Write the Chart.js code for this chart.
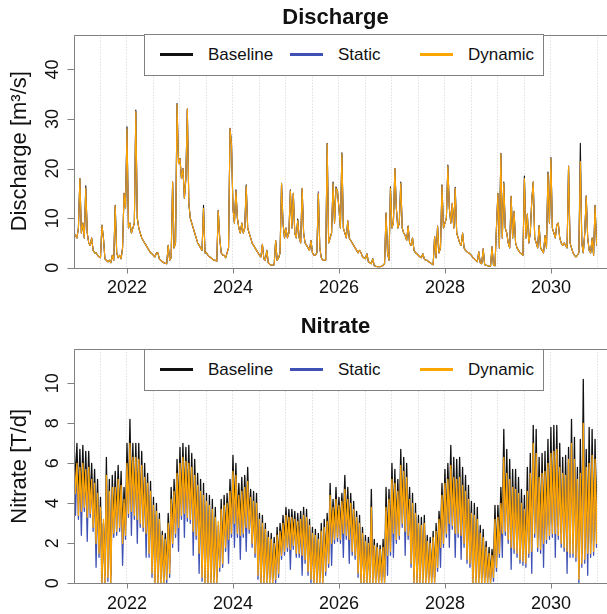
<!DOCTYPE html>
<html>
<head>
<meta charset="utf-8">
<script src="https://cdn.jsdelivr.net/npm/chart.js@4.4.1/dist/chart.umd.min.js"></script>
<style>
  body { margin: 0; background: #fff; }
  .panel { position: relative; width: 607px; height: 307px; overflow: hidden; }
  .panel canvas { position: absolute; left: 0; top: 0; }
  .legend { position: absolute; left: 144px; width: 400px; height: 42px; box-sizing: border-box;
            border: 1px solid #808080; background: #fff; color: #111;
            font: 17px "Liberation Sans", Arial, sans-serif; }
  .legend .sw { position: absolute; top: 18px; width: 33px; height: 3px; }
  .legend .lb { position: absolute; top: 10px; line-height: 20px; white-space: nowrap; }
</style>
</head>
<body>
<div class="panel"><canvas id="qChart" width="607" height="307"></canvas><div class="legend" id="qLegend" style="top:34px"></div></div>
<div class="panel"><canvas id="nChart" width="607" height="307"></canvas><div class="legend" id="nLegend" style="top:42px"></div></div>
<script>
// time axis: three readings a month (days 1, 11, 21)
const years = [2021, 2022, 2023, 2024, 2025, 2026, 2027, 2028, 2029, 2030];
const dekadOffsets = [0, 1 / 3, 2 / 3];
const xMin = 2021, xMax = 2030.87;
const xTickYears = [2022, 2024, 2026, 2028, 2030];

const seriesNames = ['Baseline', 'Static', 'Dynamic'];
const seriesColors = ['#111111', '#3f51b5', '#ffa500'];

// Discharge [m3/s]
const qBaseline = [
  7,6.5,6, 8,18,7, 9,6,16.5, 7,5,4.5, 6,3.5,3, 3,2.5,2.2, 2,8.6,6, 1.8,1.5,1.2, 1.5,1,2.5, 1.5,12.6,3, 2,2.5,1.8, 4,15,12,
  28.4,8,9, 7,8,9, 31.8,10,8, 7,6,5.5, 5,4.5,4, 3.5,3,2.8, 2.5,2.2,3, 3,1.8,1.5, 1.2,1,0.9, 0.8,4.5,1.5, 2,17.3,4, 5,33.1,21,
  22,18,20, 14,18,32, 13,10,9, 8,7,6, 5,4.5,4, 3.5,12.6,3, 3,2.5,2.2, 2,1.8,1.5, 1.5,1.3,11.6, 6,3,2.5, 2.5,2,3, 4,28.1,25,
  12,9,15.7, 10,8,7, 9,7,8, 16.7,8,7, 6,5,4.5, 4,3.5,3, 2.5,2.2,4.7, 1.8,1.5,3.5, 1,0.7,0.5, 0.5,0.6,5.5, 1.5,2,3, 17,9,6,
  8,6,7, 15.7,8,15, 7,6,9.8, 6,5,15.9, 7,5,4.5, 4,3.5,5.5, 3,2.5,2.5, 3,15,4, 2,1.5,1.5, 1.5,25.1,5, 6,7,17.3, 9,16.3,15.5,
  12,8,23.2, 8,7,6, 9.4,6,5.5, 5,4.5,4, 3.5,3,3.5, 3,2.2,2, 1.8,2.8,1.2, 1,0.8,1.8, 0.4,0.3,0.2, 0.2,0.2,0.3, 0.5,0.8,11, 3,1.5,16.3,
  8,9,20, 12,8,9, 17.3,8,7, 6.5,5.5,8.4, 5,4.5,6, 3.5,3,2.8, 2.5,2.2,2, 2.8,1.8,1.5, 1.5,1.2,1, 0.8,0.6,6.3, 2,8.4,3, 4,16.7,8,
  9,10,20.7, 12,9,13, 8,16.2,7, 6,5,4.5, 7,4,3.5, 3.2,3,2.8, 2.5,2,1.8, 1.5,1.2,3.2, 1,0.8,3.8, 0.6,0.5,0.4, 0.3,0.3,4.2, 0.5,0.4,8,
  15,4,23.1, 6,17.3,8, 7,5,4, 14.4,6,11.4, 5,4,3.5, 3,2.8,2.5, 18.5,6,10.8, 5,7,13.6, 17.3,6,5, 4,8.5,4, 3.5,3,6.5, 4,19.3,9,
  22.2,8,7, 6,8.7,9, 6,5,4.5, 5,4.5,4, 20.5,5,4, 3,2.5,2.2, 2.5,3,25.1, 5,3,7, 14.5,6,3.5, 3,6,2.5, 12.6,5,4
];
const qStatic = [
  7,6.5,6, 8,18,7, 9,6,16, 7,5,4.5, 6,3.5,3, 3,2.5,2.2, 2,8.5,6, 1.8,1.5,1.2, 1.5,1,2.5, 1.5,12.5,3, 2,2.5,1.8, 4,15,12,
  28,8,9, 7,8,9, 31.5,10,8, 7,6,5.5, 5,4.5,4, 3.5,3,2.8, 2.5,2.2,3, 3,1.8,1.5, 1.2,1,0.9, 0.8,4.5,1.5, 2,17.3,4, 5,33,21,
  22,18,20, 14,18,32, 13,10,9, 8,7,6, 5,4.5,4, 3.5,12,3, 3,2.5,2.2, 2,1.8,1.5, 1.5,1.3,11.5, 6,3,2.5, 2.5,2,3, 4,28,25,
  12,9,15.5, 10,8,7, 9,7,8, 16.5,8,7, 6,5,4.5, 4,3.5,3, 2.5,2.2,4.7, 1.8,1.5,3.5, 1,0.7,0.5, 0.5,0.6,5.5, 1.5,2,3, 17,9,6,
  8,6,7, 15.5,8,15, 7,6,9.5, 6,5,16, 7,5,4.5, 4,3.5,5.5, 3,2.5,2.5, 3,15.3,4, 2,1.5,1.5, 1.5,25,5, 6,7,17, 9,16,15.5,
  12,8,23, 8,7,6, 9.5,6,5.5, 5,4.5,4, 3.5,3,3.5, 3,2.2,2, 1.8,2.8,1.2, 1,0.8,1.8, 0.4,0.3,0.2, 0.2,0.2,0.3, 0.5,0.8,11, 3,1.5,16,
  8,9,20, 12,8,9, 17,8,7, 6.5,5.5,8.4, 5,4.5,6, 3.5,3,2.8, 2.5,2.2,2, 2.8,1.8,1.5, 1.5,1.2,1, 0.8,0.6,6.3, 2,8.4,3, 4,16.5,8,
  9,10,20.5, 12,9,13, 8,16,7, 6,5,4.5, 7,4,3.5, 3.2,3,2.8, 2.5,2,1.8, 1.5,1.2,3.2, 1,0.8,3.8, 0.6,0.5,0.4, 0.3,0.3,4.2, 0.5,0.4,8,
  15,4,23, 6,17,8, 7,5,4, 14.4,6,11.4, 5,4,3.5, 3,2.8,2.5, 18,6,10.8, 5,7,13.5, 17.3,6,5, 4,8.5,4, 3.5,3,6.5, 4,19,9,
  22,8,7, 6,8.7,9, 6,5,4.5, 5,4.5,4, 20.4,5,4, 3,2.5,2.2, 2.5,3,21.4, 5,3,7, 14.4,6,3.5, 3,6,2.5, 12.5,5,4
];
const qDynamic = [
  7,6.5,6, 8,18,7, 9,6,16, 7,5,4.5, 6,3.5,3, 3,2.5,2.2, 2,8.5,6, 1.8,1.5,1.2, 1.5,1,2.5, 1.5,12.5,3, 2,2.5,1.8, 4,15,12,
  28,8,9, 7,8,9, 31.5,10,8, 7,6,5.5, 5,4.5,4, 3.5,3,2.8, 2.5,2.2,3, 3,1.8,1.5, 1.2,1,0.9, 0.8,4.5,1.5, 2,17.3,4, 5,33,21,
  22,18,20, 14,18,32, 13,10,9, 8,7,6, 5,4.5,4, 3.5,12,3, 3,2.5,2.2, 2,1.8,1.5, 1.5,1.3,11.5, 6,3,2.5, 2.5,2,3, 4,28,25,
  12,9,15.5, 10,8,7, 9,7,8, 16.5,8,7, 6,5,4.5, 4,3.5,3, 2.5,2.2,4.7, 1.8,1.5,3.5, 1,0.7,0.5, 0.5,0.6,5.5, 1.5,2,3, 17,9,6,
  8,6,7, 15.5,8,15, 7,6,9.5, 6,5,16, 7,5,4.5, 4,3.5,5.5, 3,2.5,2.5, 3,15,4, 2,1.5,1.5, 1.5,25,5, 6,7,17, 9,16,15.5,
  12,8,23, 8,7,6, 9.5,6,5.5, 5,4.5,4, 3.5,3,3.5, 3,2.2,2, 1.8,2.8,1.2, 1,0.8,1.8, 0.4,0.3,0.2, 0.2,0.2,0.3, 0.5,0.8,11, 3,1.5,16,
  8,9,20, 12,8,9, 17,8,7, 6.5,5.5,8.4, 5,4.5,6, 3.5,3,2.8, 2.5,2.2,2, 2.8,1.8,1.5, 1.5,1.2,1, 0.8,0.6,6.3, 2,8.4,3, 4,16.5,8,
  9,10,20.5, 12,9,13, 8,16,7, 6,5,4.5, 7,4,3.5, 3.2,3,2.8, 2.5,2,1.8, 1.5,1.2,3.2, 1,0.8,3.8, 0.6,0.5,0.4, 0.3,0.3,4.2, 0.5,0.4,8,
  15,4,23, 6,17,8, 7,5,4, 14.4,6,11.4, 5,4,3.5, 3,2.8,2.5, 18,6,10.8, 5,7,13.5, 17.3,6,5, 4,8.5,4, 3.5,3,6.5, 4,19,9,
  22,8,7, 6,8.7,9, 6,5,4.5, 5,4.5,4, 20.4,5,4, 3,2.5,2.2, 2.5,3,21.4, 5,3,7, 14.4,6,3.5, 3,6,2.5, 12.5,5,4
];
const qTicks = [0, 10, 20, 30, 40];

// Nitrate [T/d]
const nBaseline = [
  7.3,5.0,7.0, 4.0,6.7,4.1, 6.9,4.3,6.6, 3.9,6.6,4.0, 6.0,3.4,5.7, 2.5,5.2,2.0, 4.3,0.3,3.0, 0.4,6.3,0.8, 5.2,0.4,5.4, 3.0,5.6,3.1, 5.9,3.3,5.6, 2.5,4.8,2.9,
  7.0,4.0,8.2, 4.1,7.0,3.9, 7.0,3.7,7.0, 3.5,6.6,3.3, 6.0,3.0,5.5, 2.0,5.1,1.0, 4.3,0.3,4.0, 0.3,3.5,0.3, 2.6,0.3,2.5, 0.7,3.5,1.0, 4.8,2.5,5.2, 3.0,6.2,3.3,
  6.8,3.9,7.0, 4.0,6.8,3.8, 6.9,3.7,6.5, 3.1,6.2,2.9, 5.5,2.0,5.2, 0.8,5.0,0.3, 4.5,0.3,4.4, 0.3,4.2,0.3, 3.8,0.3,2.2, 1.3,4.2,1.5, 4.4,2.3,4.5, 2.7,5.2,3.0,
  6.4,3.5,6.0, 3.0,5.0,2.9, 5.3,3.0,5.4, 3.3,5.8,3.2, 4.7,2.5,4.6, 2.0,4.5,0.9, 3.5,0.3,3.4, 0.3,3.0,0.3, 2.6,0.3,2.5, 0.3,2.3,0.7, 2.8,1.0,3.0, 1.9,3.4,2.1,
  3.8,2.3,3.7, 2.2,3.7,2.4, 3.6,2.0,3.5, 2.0,3.6,1.9, 3.8,1.7,3.7, 1.1,3.2,0.7, 2.8,0.3,2.7, 0.3,2.5,0.3, 3.0,0.3,3.2, 1.1,3.5,1.5, 5.0,2.5,4.2, 2.7,4.8,2.8,
  4.3,2.7,4.5, 3.0,5.4,2.9, 4.8,2.7,4.5, 2.1,4.1,1.9, 3.6,1.0,3.4, 0.3,2.8,0.3, 2.4,0.3,2.3, 0.3,4.7,0.3, 2.2,0.3,2.0, 0.3,1.9,0.3, 2.2,0.3,4.8, 1.9,4.7,2.1,
  6.0,3.0,5.7, 2.7,5.2,2.9, 6.7,3.5,6.3, 3.1,6.0,2.9, 4.8,1.5,4.5, 0.3,4.0,0.3, 3.4,0.3,3.3, 0.3,3.4,0.3, 2.4,0.3,2.3, 0.3,2.6,0.3, 3.0,1.3,3.6, 2.3,5.0,2.5,
  5.7,3.0,6.0, 3.5,6.9,3.4, 6.3,3.0,6.2, 3.0,6.3,2.9, 5.8,2.5,5.4, 1.7,4.9,1.5, 4.1,0.3,4.0, 0.3,3.8,0.3, 2.9,0.3,2.7, 0.3,2.1,0.3, 1.8,0.3,1.7, 0.8,3.9,1.3,
  3.9,2.0,4.8, 3.0,7.7,3.1, 6.7,2.7,6.2, 2.3,5.7,2.2, 5.7,2.0,5.3, 1.7,4.7,1.6, 4.4,1.5,5.8, 2.0,6.5,2.1, 7.9,3.0,7.7, 2.3,6.3,2.2, 6.5,2.5,6.6, 2.7,7.2,2.9,
  7.8,3.0,7.9, 3.0,7.9,2.9, 7.0,2.5,6.3, 2.3,6.4,2.1, 6.8,2.0,8.2, 2.0,7.3,1.8, 5.8,0.7,7.2, 1.5,10.2,1.7, 6.7,2.0,7.8, 2.0,7.7,2.1, 7.2,2.5,7.4
];
const nStatic = [
  5.4,3.4,5.8, 3.2,5.6,2.4, 5.8,3.6,5.5, 2.1,5.6,3.3, 5.0,2.6,4.8, 0.8,4.3,1.3, 3.6,0,3.0, 0,5.2,0.1, 4.4,0,4.6, 2.3,4.6,2.4, 5.0,2.6,4.7, 0.9,4.0,2.2,
  5.8,3.3,6.8, 2.4,6.1,3.2, 6.1,2.0,6.0, 2.8,5.7,2.6, 5.1,1.3,4.8, 1.3,4.4,0.3, 3.7,0,3.4, 0,3.0,0, 2.2,0,2.0, 0,2.8,0.3, 4.0,1.8,4.4, 2.3,5.3,1.6,
  5.8,3.2,6.1, 2.3,5.9,3.1, 5.8,3.0,5.6, 1.4,5.2,2.2, 4.7,0.5,4.4, 0.1,4.2,0, 3.9,0,3.7, 0,3.5,0, 3.1,0,2.9, 0.6,3.5,0.8, 3.7,1.6,3.8, 1.0,4.4,2.3,
  5.4,1.8,5.2, 2.3,4.2,1.2, 4.4,2.3,4.6, 1.6,4.9,2.5, 4.1,1.8,3.9, 1.3,3.8,0.2, 3.0,0,2.8, 0,2.5,0, 2.1,0,2.0, 0,1.8,0, 2.2,0.3,2.4, 1.2,2.8,1.4,
  3.2,1.6,3.1, 0.7,3.1,1.7, 3.0,1.3,2.9, 1.3,3.0,0.4, 3.2,1.0,3.1, 0.4,2.7,0, 2.3,0,2.2, 0,2.0,0, 2.4,0,2.6, 0.4,2.9,0.8, 4.2,0.9,3.6, 2.0,4.0,2.1,
  3.7,2.0,3.9, 1.3,4.5,2.2, 4.0,1.0,3.8, 1.4,3.5,1.2, 3.1,0.3,2.8, 0,2.3,0, 1.9,0,1.8, 0,3.6,0, 1.7,0,1.6, 0,1.5,0, 1.6,0,3.6, 0.4,4.0,1.4,
  5.0,1.3,4.8, 2.0,4.4,2.2, 5.7,2.8,5.4, 1.4,5.1,2.2, 4.0,0.8,3.8, 0,3.3,0, 2.8,0,2.7, 0,2.8,0, 1.9,0,1.8, 0,2.1,0, 2.4,0.6,3.0, 0.8,4.2,1.8,
  4.8,2.3,5.0, 1.8,5.7,2.7, 5.1,1.3,5.0, 2.3,5.1,1.2, 4.7,1.8,4.4, 1.0,4.0,0.8, 3.3,0,3.2, 0,3.0,0, 2.3,0,2.1, 0,1.6,0, 1.3,0,1.2, 0.1,3.0,0.6,
  3.1,1.3,3.8, 1.3,6.1,2.4, 5.3,2.0,5.0, 0.7,4.6,1.5, 4.5,1.3,4.3, 1.0,3.8,0.9, 3.5,0.8,4.4, 1.3,5.3,0.5, 6.8,2.3,6.3, 1.6,5.1,1.5, 5.3,0.8,5.4, 2.0,5.8,2.2,
  6.3,2.3,6.4, 1.3,6.5,2.2, 5.6,1.8,5.3, 1.6,5.2,0.5, 6.0,1.3,6.8, 1.3,6.0,1.1, 5.0,0,5.3, 0.8,7.8,1.0, 5.6,0.4,5.8, 1.3,6.2,1.4, 6.0,1.8,5.8
];
const nDynamic = [
  6.3,4.5,6.0, 3.4,5.8,3.6, 6.0,3.8,5.7, 3.3,5.8,3.5, 5.2,2.8,5.0, 2.0,4.5,1.5, 3.8,0,3.2, 0,5.4,0.3, 4.6,0,4.8, 2.5,4.8,2.6, 5.2,2.8,4.9, 2.0,4.2,2.4,
  6.0,3.5,7.0, 3.6,6.3,3.4, 6.3,3.2,6.2, 3.0,5.9,2.8, 5.3,2.5,5.0, 1.5,4.6,0.5, 3.9,0,3.6, 0,3.2,0, 2.4,0,2.2, 0.2,3.0,0.5, 4.2,2.0,4.6, 2.5,5.5,2.8,
  6.0,3.4,6.3, 3.5,6.1,3.3, 6.0,3.2,5.8, 2.6,5.4,2.4, 4.9,1.5,4.6, 0.3,4.4,0, 4.1,0,3.9, 0,3.7,0, 3.3,0,3.1, 0.8,3.7,1.0, 3.9,1.8,4.0, 2.2,4.6,2.5,
  5.6,3.0,5.4, 2.5,4.4,2.4, 4.6,2.5,4.8, 2.8,5.1,2.7, 4.3,2.0,4.1, 1.5,4.0,0.4, 3.2,0,3.0, 0,2.7,0, 2.3,0,2.2, 0,2.0,0.2, 2.4,0.5,2.6, 1.4,3.0,1.6,
  3.4,1.8,3.3, 1.7,3.3,1.9, 3.2,1.5,3.1, 1.5,3.2,1.4, 3.4,1.2,3.3, 0.6,2.9,0.2, 2.5,0,2.4, 0,2.2,0, 2.6,0,2.8, 0.6,3.1,1.0, 4.4,2.0,3.8, 2.2,4.2,2.3,
  3.9,2.2,4.1, 2.5,4.7,2.4, 4.2,2.2,4.0, 1.6,3.7,1.4, 3.3,0.5,3.0, 0,2.5,0, 2.1,0,2.0, 0,3.8,0, 1.9,0,1.8, 0,1.7,0, 1.8,0,3.8, 1.4,4.2,1.6,
  5.2,2.5,5.0, 2.2,4.6,2.4, 5.9,3.0,5.6, 2.6,5.3,2.4, 4.2,1.0,4.0, 0,3.5,0, 3.0,0,2.9, 0,3.0,0, 2.1,0,2.0, 0,2.3,0, 2.6,0.8,3.2, 1.8,4.4,2.0,
  5.0,2.5,5.2, 3.0,5.9,2.9, 5.3,2.5,5.2, 2.5,5.3,2.4, 4.9,2.0,4.6, 1.2,4.2,1.0, 3.5,0,3.4, 0,3.2,0, 2.5,0,2.3, 0,1.8,0, 1.5,0,1.4, 0.3,3.2,0.8,
  3.3,1.5,4.0, 2.5,6.3,2.6, 5.5,2.2,5.2, 1.8,4.8,1.7, 4.7,1.5,4.5, 1.2,4.0,1.1, 3.7,1.0,4.6, 1.5,5.5,1.6, 7.0,2.5,6.5, 1.8,5.3,1.7, 5.5,2.0,5.6, 2.2,6.0,2.4,
  6.5,2.5,6.6, 2.5,6.7,2.4, 5.8,2.0,5.5, 1.8,5.4,1.6, 6.2,1.5,7.0, 1.5,6.2,1.3, 5.2,0.2,5.5, 1.0,8.0,1.2, 5.8,1.5,6.0, 1.5,6.4,1.6, 6.2,2.0,6.0
];
const nTicks = [0, 2, 4, 6, 8, 10];

const times = [];
years.forEach(yr => {
  for (let m = 0; m < 12; m++) dekadOffsets.forEach(f => times.push(yr + (m + f) / 12));
});
const toPoints = arr => arr.map((v, i) => ({ x: times[i], y: v }));

const FONT = '"Liberation Sans", Arial, Helvetica, sans-serif';
Chart.defaults.font.family = FONT;
Chart.defaults.color = '#111';

// frame, tick marks and rotated y labels (R style)
const framePlugin = {
  id: 'frame',
  afterDatasetsDraw(chart, args, opts) {
    const { ctx, chartArea: a, scales: { x, y } } = chart;
    const L = Math.round(a.left) + 0.5, T = Math.round(a.top) + 0.5, B = Math.round(a.bottom) + 0.5;
    ctx.save();
    ctx.strokeStyle = '#808080';
    ctx.lineWidth = 1;
    ctx.beginPath();
    ctx.moveTo(chart.width + 2, T); ctx.lineTo(L, T); ctx.lineTo(L, B); ctx.lineTo(chart.width + 2, B);
    opts.yTicks.forEach(v => {
      const py = Math.round(y.getPixelForValue(v)) + 0.5;
      ctx.moveTo(L - 7, py); ctx.lineTo(L, py);
    });
    xTickYears.forEach(v => {
      const px = Math.round(x.getPixelForValue(v)) + 0.5;
      ctx.moveTo(px, B); ctx.lineTo(px, B + 5);
    });
    ctx.stroke();
    ctx.fillStyle = '#111';
    ctx.font = '18px ' + FONT;
    ctx.textAlign = 'center';
    ctx.textBaseline = 'middle';
    opts.yTicks.forEach(v => {
      ctx.save();
      ctx.translate(53, y.getPixelForValue(v));
      ctx.rotate(-Math.PI / 2);
      ctx.fillText(String(v), 0, 0);
      ctx.restore();
    });
    ctx.restore();
  }
};

function makeChart(id, cfg) {
  const series = [cfg.baseline, cfg.static, cfg.dynamic];
  return new Chart(document.getElementById(id), {
    type: 'line',
    data: {
      datasets: series.map((arr, i) => ({
        label: seriesNames[i],
        data: toPoints(arr),
        borderColor: seriesColors[i],
        borderWidth: cfg.lineWidth,
        borderJoinStyle: 'round',
        pointRadius: 0,
        fill: false,
        tension: 0,
        order: 3 - i
      }))
    },
    options: {
      responsive: false,
      animation: false,
      devicePixelRatio: 1,
      parsing: false,
      layout: { padding: 0 },
      events: [],
      plugins: {
        legend: { display: false },
        tooltip: { enabled: false },
        title: {
          display: true, text: cfg.title, fullSize: false, color: '#111',
          font: { size: 22, weight: 'bold' }, padding: cfg.titlePad
        },
        frame: { yTicks: cfg.yTicks }
      },
      scales: {
        x: {
          type: 'linear', min: xMin, max: xMax,
          afterFit: s => { s.height = cfg.xAxisHeight; },
          ticks: {
            stepSize: 0.5, autoSkip: false, maxRotation: 0, minRotation: 0, padding: 10,
            color: '#111', font: { size: 18 },
            callback: v => xTickYears.some(t => Math.abs(t - v) < 1e-6) ? String(Math.round(v)) : ''
          },
          grid: { color: '#d2d2d2', lineWidth: 1, drawTicks: false },
          border: { display: false, dash: [1, 2] }
        },
        y: {
          min: 0, max: cfg.yMax,
          afterFit: s => { s.width = 74; },
          ticks: { display: false },
          grid: { display: false },
          border: { display: false },
          title: {
            display: true, text: cfg.yTitle, color: '#111',
            font: { size: 22 }, padding: { top: 7, bottom: 0 }
          }
        }
      }
    },
    plugins: [framePlugin]
  });
}

function makeLegend(id) {
  const box = document.getElementById(id);
  const swatchLeft = [15, 145, 275];
  const labelLeft = [63, 193, 323];
  seriesNames.forEach((name, i) => {
    const sw = document.createElement('div');
    sw.className = 'sw';
    sw.style.left = swatchLeft[i] + 'px';
    sw.style.background = seriesColors[i];
    const lb = document.createElement('div');
    lb.className = 'lb';
    lb.style.left = labelLeft[i] + 'px';
    lb.textContent = name;
    box.appendChild(sw);
    box.appendChild(lb);
  });
}

makeChart('qChart', {
  title: 'Discharge', yTitle: 'Discharge [m³/s]', yMax: 47, yTicks: qTicks,
  baseline: qBaseline, static: qStatic, dynamic: qDynamic, lineWidth: 1.1,
  titlePad: { top: 5, bottom: 3.3 }, xAxisHeight: 39.3
});
makeChart('nChart', {
  title: 'Nitrate', yTitle: 'Nitrate [T/d]', yMax: 11.7, yTicks: nTicks,
  baseline: nBaseline, static: nStatic, dynamic: nDynamic, lineWidth: 1.3,
  titlePad: { top: 7, bottom: 8.9 }, xAxisHeight: 30.7
});
makeLegend('qLegend');
makeLegend('nLegend');
</script>
</body>
</html>
